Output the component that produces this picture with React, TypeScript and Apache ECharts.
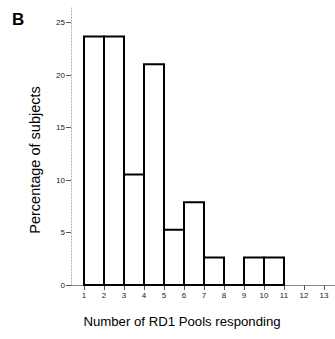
import React, { useEffect, useRef } from "react";
import * as echarts from "echarts";

const binStarts = [1, 2, 3, 4, 5, 6, 7, 8, 9, 10];
const binEnds = [2, 3, 4, 5, 6, 7, 8, 9, 10, 11];
const percentages = [23.68, 23.68, 10.53, 21.05, 5.26, 7.89, 2.63, 0, 2.63, 2.63];
const xTicks = [1, 2, 3, 4, 5, 6, 7, 8, 9, 10, 11, 12, 13];
const yTicks = [0, 5, 10, 15, 20, 25];
const xTitle = "Number of RD1 Pools responding";
const yTitle = "Percentage of subjects";

export default function App() {
  const ref = useRef<HTMLDivElement>(null);
  useEffect(() => {
    if (!ref.current) return;
    const chart = echarts.init(ref.current, null, { renderer: "svg" });
    const data = binStarts.map((s, i) => [s, binEnds[i], percentages[i]]);
    const font = "Liberation Sans, Arial, sans-serif";
    chart.setOption({
      animation: false,
      backgroundColor: "#fff",
      textStyle: { fontFamily: font },
      graphic: [
        {
          type: "text",
          x: 12,
          y: 11,
          style: { text: "B", font: `bold 17px ${font}`, fill: "#000" },
        },
        {
          type: "text",
          x: 35,
          y: 160,
          rotation: Math.PI / 2,
          style: {
            text: yTitle,
            font: `14.5px ${font}`,
            fill: "#000",
            align: "center",
            verticalAlign: "middle",
          },
        },
        {
          type: "text",
          x: 182,
          y: 321,
          style: {
            text: xTitle,
            font: `13.2px ${font}`,
            fill: "#000",
            align: "center",
            verticalAlign: "middle",
          },
        },
      ],
      grid: { left: 71, right: 0, top: 8, bottom: 54, containLabel: false },
      xAxis: {
        type: "value",
        min: 0.35,
        max: 13.55,
        splitLine: { show: false },
        axisLine: { show: true, lineStyle: { color: "#888", width: 1 } },
        axisTick: { show: true, length: 5, customValues: xTicks, lineStyle: { color: "#555" } },
        axisLabel: { customValues: xTicks, fontSize: 8, color: "#222", margin: 6 },
      },
      yAxis: {
        type: "value",
        min: 0,
        max: 26.4,
        splitLine: { show: false },
        axisLine: { show: true, lineStyle: { color: "#aaa", width: 1, type: [1, 2] } },
        axisTick: { show: true, length: 5, customValues: yTicks, lineStyle: { color: "#555" } },
        axisLabel: { customValues: yTicks, fontSize: 8, color: "#222", margin: 6 },
      },
      series: [
        {
          type: "custom",
          data,
          encode: { x: [0, 1], y: 2 },
          renderItem: (params: any, api: any) => {
            const s = api.value(0);
            const e = api.value(1);
            const v = api.value(2);
            const p1 = api.coord([s, v]);
            const p2 = api.coord([e, 0]);
            return {
              type: "rect",
              shape: { x: p1[0], y: p1[1], width: p2[0] - p1[0], height: p2[1] - p1[1] },
              style: { fill: "#fff", stroke: "#000", lineWidth: 2 },
            };
          },
        },
      ],
    });
    return () => chart.dispose();
  }, []);
  return <div ref={ref} style={{ width: 335, height: 339, position: "absolute", left: 0, top: 0 }} />;
}
